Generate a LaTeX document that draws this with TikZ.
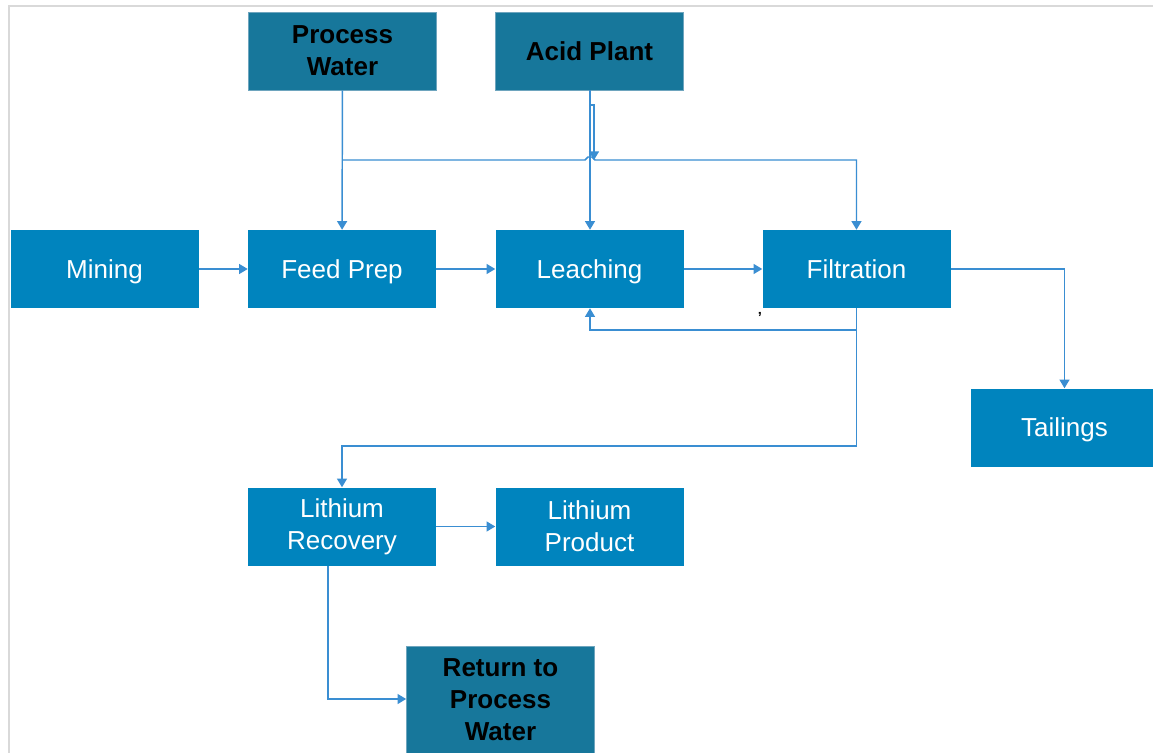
\documentclass[tikz,border=0pt]{standalone}
\usepackage{fontspec}
\setmainfont{Liberation Sans}
\usetikzlibrary{arrows.meta}
\definecolor{lightbox}{RGB}{0,132,190}
\definecolor{darkbox}{RGB}{23,119,155}
\definecolor{darkedge}{RGB}{110,165,190}
\definecolor{linec}{RGB}{58,142,210}
\definecolor{framec}{RGB}{217,217,217}
\tikzset{
  lbox/.style={fill=lightbox, text=white, minimum width=141pt, minimum height=58.5pt, inner sep=0pt, align=center, font=\fontsize{19.5}{24}\selectfont},
  dbox/.style={fill=darkbox, draw=darkedge, line width=0.5pt, text=black, minimum width=141pt, minimum height=58.5pt, inner sep=0pt, align=center, font=\fontsize{19.5}{24}\selectfont\bfseries},
  oneline/.style={text height=17pt, text depth=3pt},
  conn/.style={draw=linec, line width=1.1pt},
  arr/.style={conn, -{Triangle[width=7.5pt,length=6.5pt]}}
}
\begin{document}
\begin{tikzpicture}[x=0.75pt,y=-0.75pt]
\useasboundingbox (0,0) rectangle (1153,753);
\fill[white] (0,0) rectangle (1153,753);
\draw[framec, line width=1.5pt] (8.5,5.5) rectangle (1170,770);

\node[dbox] (pw) at (342.5,51) {Process\\Water};
\node[dbox, oneline] (ap) at (589.5,51) {Acid Plant};
\node[lbox, oneline] (mine) at (104.5,269) {Mining};
\node[lbox, oneline] (fp) at (342,269) {Feed Prep};
\node[lbox, oneline] (leach) at (589.5,269) {Leaching};
\node[lbox, oneline] (filt) at (856.5,269) {Filtration};
\node[lbox, oneline] (tail) at (1064.5,427.5) {Tailings};
\node[lbox] (lr) at (342,526.5) {Lithium\\Recovery};
\node[lbox] (lp) at (589.5,526.5) {Lithium\\Product};
\node[dbox, minimum height=81pt] (ret) at (500.5,700) {Return to\\Process\\Water};
\node[text=black, inner sep=0pt, font=\fontsize{11}{11}\selectfont\bfseries] (mark) at (760,317) {’};

\coordinate (j1) at (342.5,160);
\coordinate (j2) at (856.5,160);
\coordinate (k1) at (590,105);
\coordinate (k2) at (594,160);
\coordinate (f1) at (856.5,330);
\coordinate (f2) at (856.5,446);
\coordinate (r1) at (328,566);
\coordinate (r2) at (328,699);

% Process water feed
\draw[arr] (pw) -- (fp);
\draw[arr] (j1) -- (585,160) -- (588,157) -- (592,157) -- (595,160) -- (j2) -- (filt);
% Acid plant
\draw[arr] (ap.south -| 590,0) -- (leach.north -| 590,0);
\draw[arr] (k1) -| (k2);
% Main line
\draw[arr] (mine) -- (fp);
\draw[arr] (fp) -- (leach);
\draw[arr] (leach) -- (filt);
\draw[arr] (filt.east) -| (tail.north);
% Recycle and product
\draw[arr] (filt.south) -- (f1) -| (leach.south -| 590,0);
\draw[arr] (filt.south) -- (f2) -| (lr.north);
\draw[arr] (lr) -- (lp);
\draw[arr] (r1) -- (r2) -- (ret.west |- r2);
\end{tikzpicture}
\end{document}
